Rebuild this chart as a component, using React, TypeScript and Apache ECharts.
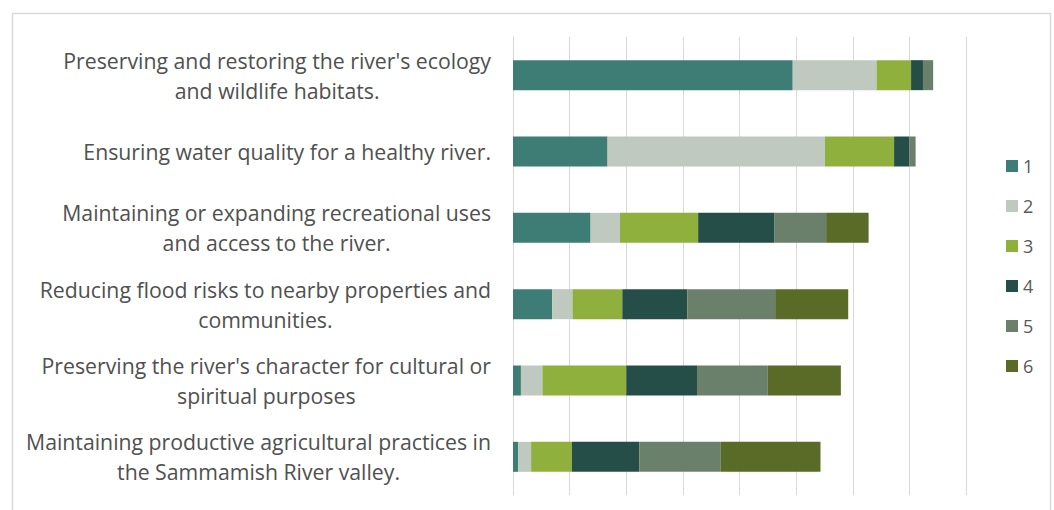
import React, { useEffect, useRef } from "react";
import * as echarts from "echarts";

const categories: string[] = [
  "Preserving and restoring the river's ecology\nand wildlife habitats.",
  "Ensuring water quality for a healthy river.",
  "Maintaining or expanding recreational uses\nand access to the river.",
  "Reducing flood risks to nearby properties and\ncommunities.",
  "Preserving the river's character for cultural or\nspiritual purposes",
  "Maintaining productive agricultural practices in\nthe Sammamish River valley.",
];

const seriesNames: string[] = ["1", "2", "3", "4", "5", "6"];

const s1: number[] = [49.4, 16.7, 13.7, 6.9, 1.4, 0.9];
const s2: number[] = [14.8, 38.4, 5.2, 3.6, 3.8, 2.3];
const s3: number[] = [6.1, 12.2, 13.8, 8.8, 14.8, 7.2];
const s4: number[] = [2.1, 2.7, 13.5, 11.5, 12.5, 11.9];
const s5: number[] = [1.8, 1.1, 9.1, 15.5, 12.5, 14.4];
const s6: number[] = [0, 0, 7.5, 12.9, 12.9, 17.6];

const seriesData: number[][] = [s1, s2, s3, s4, s5, s6];
const colors: string[] = ["#3d7d75", "#bfc9bf", "#8fb03c", "#264e48", "#6a806b", "#596b26"];

const FONT = "'Open Sans', 'Noto Sans', sans-serif";

export default function App() {
  const ref = useRef<HTMLDivElement>(null);
  useEffect(() => {
    if (!ref.current) return;
    const chart = echarts.init(ref.current, undefined, { renderer: "svg" });
    chart.setOption({
      animation: false,
      color: colors,
      textStyle: { fontFamily: FONT },
      graphic: [
        {
          type: "rect",
          shape: { x: 12.5, y: 13.5, width: 1038, height: 520 },
          style: { fill: "none", stroke: "#d9d9d9", lineWidth: 1.5 },
          silent: true,
          z: -10,
        },
      ],
      grid: { left: 513, right: 88, top: 37, bottom: 15, containLabel: false },
      legend: {
        orient: "vertical",
        left: 1001,
        top: 150,
        itemWidth: 12,
        itemHeight: 12,
        itemGap: 18,
        icon: "rect",
        textStyle: { color: "#595959", fontSize: 18, lineHeight: 22, fontFamily: FONT },
        data: seriesNames,
      },
      xAxis: {
        type: "value",
        min: 0,
        max: 80,
        interval: 10,
        axisLabel: { show: false },
        axisLine: { show: false },
        axisTick: { show: false },
        splitLine: { lineStyle: { color: "#d9d9d9", width: 1 } },
      },
      yAxis: {
        type: "category",
        inverse: true,
        data: categories,
        axisLine: { lineStyle: { color: "#d9d9d9", width: 1 } },
        axisTick: { length: 8, lineStyle: { color: "#d9d9d9" } },
        axisLabel: {
          margin: 22,
          formatter: (v: string) =>
            v.split("\n").map((l) => `{c|${l}}`).join("\n"),
          rich: {
            c: {
              align: "center",
              fontSize: 21.25,
              lineHeight: 30,
              color: "#505050",
              fontFamily: FONT,
            },
          },
        },
      },
      series: seriesNames.map((name, i) => ({
        name,
        type: "bar",
        stack: "total",
        barWidth: 30,
        data: seriesData[i],
        itemStyle: { color: colors[i] },
      })),
    });
    return () => chart.dispose();
  }, []);
  return (
    <div
      ref={ref}
      style={{ position: "fixed", left: 0, top: 0, width: 1054, height: 510, background: "#fff" }}
    />
  );
}
